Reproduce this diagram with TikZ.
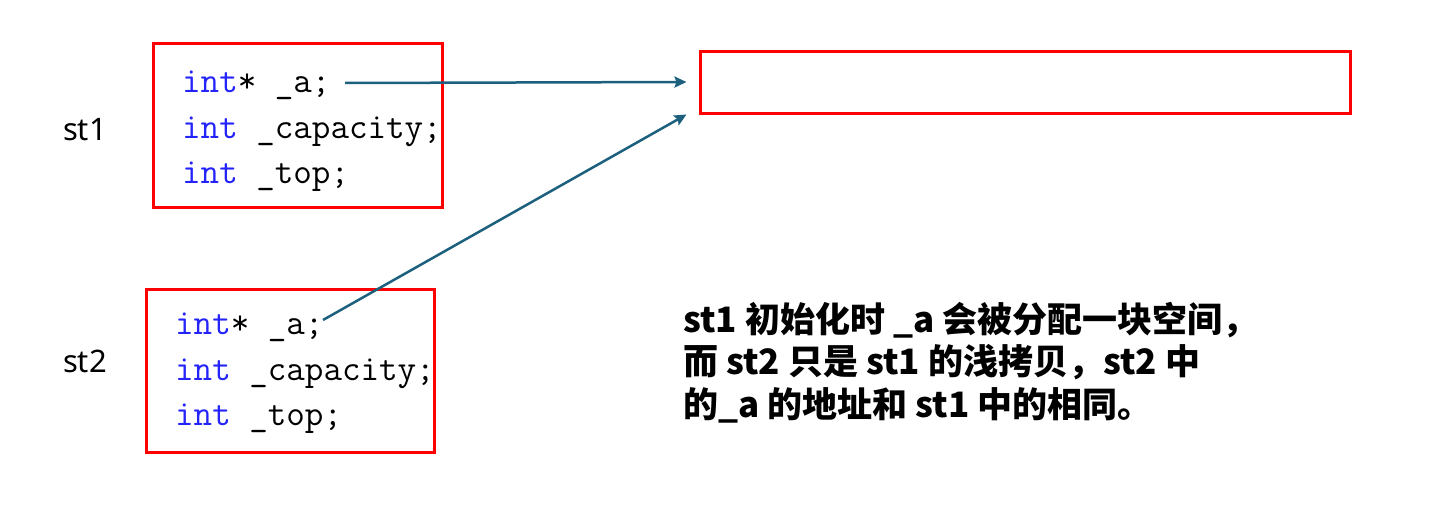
\documentclass[tikz,border=0pt]{standalone}
\usepackage{fontspec}
\newfontfamily\labelfont{Noto Sans}
\newfontfamily\cjk{Noto Sans CJK SC}
\usetikzlibrary{arrows.meta,positioning,calc}
\definecolor{kwblue}{RGB}{35,35,250}
\definecolor{ptrblue}{RGB}{28,96,126}
\newcommand{\kw}[1]{\textcolor{kwblue}{#1}}

\begin{document}
\begin{tikzpicture}[
  x=1pt,y=-1pt,
  >={Stealth[length=12pt,width=11pt,inset=2pt]},
  frame/.style={draw=red,line width=3pt,inner sep=0pt},
  code/.style={anchor=base west,inner sep=0pt,
    font=\ttfamily\fontsize{36}{40}\selectfont},
  tag/.style={font=\labelfont\fontsize{31}{36}\selectfont},
  note/.style={anchor=base west,align=left,inner sep=0pt,
    font=\cjk\bfseries\fontsize{35}{42.5}\selectfont},
  ptr/.style={->,draw=ptrblue,line width=2.5pt}
]
\useasboundingbox (0,0) rectangle (1435,506);

% the two structs
\node[frame,minimum width=289pt,minimum height=164pt] (st1box) at (297.5,125) {};
\node[code] (a1) at (182,92) {\kw{int}* \_a;};
\node[code] (cap1) at (182,138) {\kw{int} \_capacity;};
\node[code] (top1) at (182,183) {\kw{int} \_top;};
\node[tag] (st1) at (85,130) {st1};

\node[frame,minimum width=288pt,minimum height=163pt] (st2box) at (290,370.5) {};
\node[code] (a2) at (175,334) {\kw{int}* \_a;};
\node[code] (cap2) at (175,380) {\kw{int} \_capacity;};
\node[code] (top2) at (175,425) {\kw{int} \_top;};
\node[tag] (st2) at (85,361) {st2};

% the heap block
\node[frame,minimum width=650pt,minimum height=62pt] (heap) at (1025,82) {};

% pointers
\coordinate (p1) at (345,83);
\coordinate (p2) at (323,320);
\draw[ptr] (p1) -- ([xshift=-12pt]heap.west);
\draw[ptr] (p2) -- ([xshift=-12pt]heap.south west);

\node[note] (expl) at (683,417)
 {st1 初始化时 \_a 会被分配一块空间，\\
  而 st2 只是 st1 的浅拷贝，st2 中\\
  的\_a 的地址和 st1 中的相同。};
\end{tikzpicture}
\end{document}
